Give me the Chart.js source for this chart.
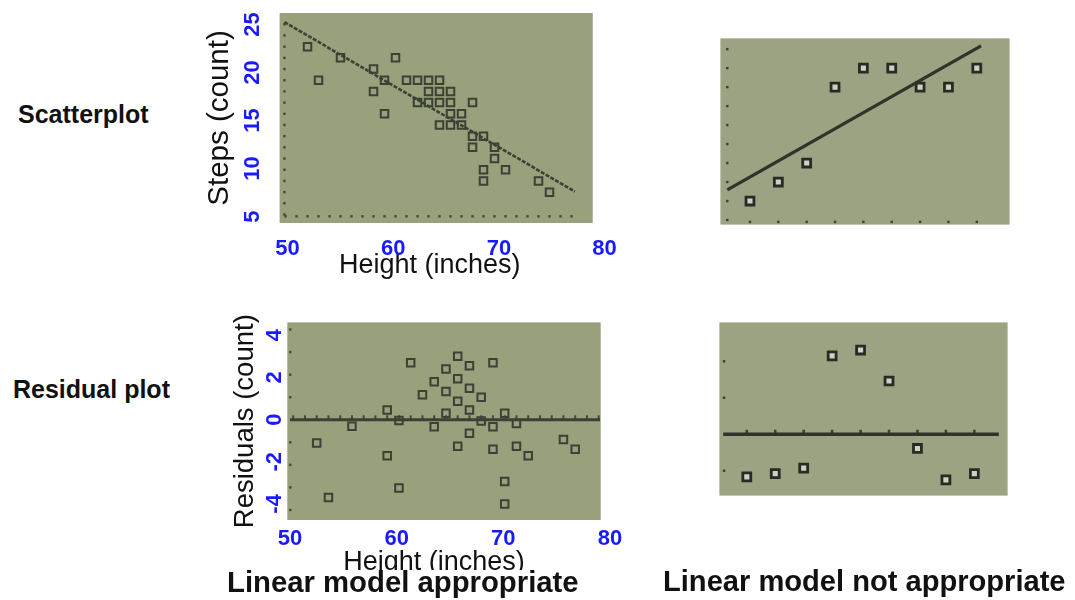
<!DOCTYPE html>
<html><head><meta charset="utf-8">
<script src="https://cdn.jsdelivr.net/npm/chart.js@4.4.0/dist/chart.umd.min.js"></script>
<style>
body{margin:0;background:#fff;}
#wrap{position:relative;width:1075px;height:600px;overflow:hidden;background:#fff;}
canvas{position:absolute;}
.lab{position:absolute;font-family:'Liberation Sans',Arial,sans-serif;font-weight:bold;color:#111;line-height:1;white-space:nowrap;}
</style></head><body>
<div id="wrap">
<canvas id="c1" width="440" height="285" style="left:190px;top:0px"></canvas>
<canvas id="c2" width="306" height="203" style="left:712px;top:30px"></canvas>
<canvas id="c3" width="440" height="300" style="left:190px;top:300px"></canvas>
<canvas id="c4" width="305" height="190" style="left:711px;top:314px"></canvas>
<div class="lab" style="left:18px;top:102px;font-size:25px">Scatterplot</div>
<div class="lab" style="left:13px;top:377px;font-size:25px">Residual plot</div>
<div class="lab" style="left:227px;top:567px;font-size:29.3px;background:linear-gradient(to bottom,rgba(255,255,255,0) 3px,#fff 3px);">Linear model appropriate</div>
<div class="lab" style="left:663px;top:567px;font-size:29.1px">Linear model not appropriate</div>
</div>
<script>
// ---------- data: linear relationship (left column) ----------
const heights   = [52,53,55,58,58,59,59,60,61,62,62,63,63,63,64,64,64,64,65,65,65,65,66,66,67,67,67,68,69,69,68,68,70,73,74];
const steps     = [22,19,21,20,18,19,16,21,19,19,17,19,18,17,19,18,17,15,18,17,16,15,16,15,17,14,13,14,13,12,11,10,11,10,9];
const residuals = [-1.03,-3.45,-0.29,0.43,-1.60,-0.03,-3.02,2.53,1.11,1.68,-0.31,2.25,1.25,0.29,2.82,1.82,0.82,-1.17,2.39,1.40,0.43,-0.60,1.00,-0.05,2.53,-0.31,-1.31,0.29,-0.17,-1.17,-2.74,-3.73,-1.60,-0.88,-1.31];
const fitHeights = [49.9, 76.3];
const fitSteps   = [24.2, 9.05];
const zeroHeights = [49.73, 76.11];
const zeroResid   = [0, 0];

// ---------- data: non-linear relationship (right column) ----------
const nlX         = [1,2,3,4,5,6,7,8,9];
const nlY         = [1,2,3,7,8,8,7,7,8];
const nlResiduals = [-1.17,-1.08,-0.93,2.15,2.31,1.46,-0.39,-1.25,-1.08];
const nlFitX = [0.2, 9.15];
const nlFitY = [1.59, 9.17];
const nlZeroX = [0.17, 9.86];
const nlZeroY = [0, 0];

// ---------- tick labels ----------
const heightTicks   = [50,60,70,80];
const stepsTicks    = [5,10,15,20,25];
const residualTicks = [-4,-2,0,2,4];

const FONT = "'Liberation Sans', Arial, sans-serif";
const BLUE = '#1a1aff';
const INK  = '#3a4135';
const INK2 = '#262b23';
const range = (a,b) => { const r=[]; for(let v=a; v<=b; v++) r.push(v); return r; };
const pts = (xs, ys) => xs.map((x,i)=>({x:x, y:ys[i]}));

const calcPlugin = {
  id: 'calc',
  beforeDraw(chart, args, o) {
    const {ctx, chartArea:a, scales} = chart;
    let x0 = a.left, x1 = a.right;
    if (o.fillX) { x0 = scales.x.getPixelForValue(o.fillX[0]); x1 = scales.x.getPixelForValue(o.fillX[1]); }
    ctx.save();
    ctx.fillStyle = o.bg;
    ctx.fillRect(x0, a.top, x1 - x0, a.bottom - a.top);
    ctx.restore();
  },
  beforeDatasetsDraw(chart, args, o) {
    const {ctx, scales} = chart;
    const xs = scales.x, ys = scales.y, s = o.dot || 2.4;
    ctx.save();
    ctx.fillStyle = o.dotColor;
    if (o.leftDots) o.leftDots.values.forEach(v => {
      const px = xs.getPixelForValue(o.leftDots.x), py = ys.getPixelForValue(v);
      ctx.fillRect(px - s/2, py - s/2, s, s);
    });
    if (o.bottomDots) o.bottomDots.values.forEach(v => {
      const px = xs.getPixelForValue(v), py = ys.getPixelForValue(o.bottomDots.y);
      ctx.fillRect(px - s/2, py - s/2, s, s);
    });
    if (o.zeroTicks) o.zeroTicks.values.forEach(v => {
      const px = xs.getPixelForValue(v), py = ys.getPixelForValue(0);
      ctx.fillRect(px - o.zeroTicks.w/2, py - o.zeroTicks.h, o.zeroTicks.w, o.zeroTicks.h);
    });
    ctx.restore();
  }
};

function xLabelAxis(min, max, ticksArr, pad, height, text, titlePad) {
  return { type:'linear', axis:'x', position:'bottom', min:min, max:max,
    afterBuildTicks: s => { s.ticks = ticksArr.map(v => ({value:v})); },
    afterFit: s => { s.height = height; },
    grid:{display:false, drawTicks:false}, border:{display:false},
    ticks:{autoSkip:false, minRotation:0, maxRotation:0, padding:pad, color:BLUE, font:{family:FONT, size:22, weight:'bold'}},
    title:{display:true, text:text, color:'#111', font:{family:FONT, size:27}, padding:{top:0, bottom:titlePad}}
  };
}
function yLabelAxis(min, max, ticksArr, pad, width, text, titleSize, titlePad) {
  return { type:'linear', axis:'y', position:'left', min:min, max:max,
    afterBuildTicks: s => { s.ticks = ticksArr.map(v => ({value:v})); },
    afterFit: s => { s.width = width; },
    grid:{display:false, drawTicks:false}, border:{display:false},
    ticks:{autoSkip:false, mirror:true, minRotation:90, maxRotation:90, crossAlign:'center', padding:pad, color:BLUE, font:{family:FONT, size:22, weight:'bold'}},
    title:{display:true, text:text, color:'#111', font:{family:FONT, size:titleSize}, padding:{top:titlePad, bottom:0}}
  };
}
const hidden = (min, max) => ({type:'linear', display:false, min:min, max:max});

function base(scales, calc, padding) {
  return { responsive:false, animation:false, events:[], layout:{padding:padding},
    scales:scales,
    plugins:{legend:{display:false}, tooltip:{enabled:false}, calc:calc} };
}
const sq = (data, r, bw, color, fill) => ({ type:'scatter', data:data, pointStyle:'rect', pointRadius:r, pointBorderWidth:bw,
  borderColor:color, backgroundColor:fill, pointBackgroundColor:fill, pointBorderColor:color, showLine:false, clip:false });
const ln = (data, w, color, dash) => ({ type:'scatter', data:data, showLine:true, pointRadius:0, borderWidth:w,
  borderColor:color, borderDash:dash || [], fill:false, clip:false });

// ---- Panel 1: scatterplot, linear ----
new Chart(document.getElementById('c1'), {
  type:'scatter',
  data:{datasets:[
    ln(pts(fitHeights, fitSteps), 2.6, INK, [4,1.5]),
    sq(pts(heights, steps), 5.3, 2, INK, 'rgba(0,0,0,0)')
  ]},
  options: base({
      x: hidden(47.225, 79.006),
      y: hidden(6.241, 25.009),
      xl: xLabelAxis(46.925, 80, heightTicks, 13.2, 62, 'Height (inches)', 3.3),
      yl: yLabelAxis(4.333, 26.208, stepsTicks, -14.7, 65, 'Steps (count)', 29.5, 12.3)
    },
    {bg:'#98a07c', fillX:[49.463, 77.93], dotColor:'#434a3d',
     leftDots:{x:49.9, values:range(7,24)}, bottomDots:{y:6.84, values:range(50,76)}},
    {left:0, top:13, right:20, bottom:0}),
  plugins:[calcPlugin]
});

// ---- Panel 2: scatterplot, non-linear ----
new Chart(document.getElementById('c2'), {
  type:'scatter',
  data:{datasets:[
    ln(pts(nlFitX, nlFitY), 3.2, '#2e3429'),
    sq(pts(nlX, nlY), 5.6, 2.8, INK2, '#cfd2c2')
  ]},
  options: base({ x: hidden(-0.0433, 10.157), y: hidden(-0.2415, 9.565) },
    {bg:'#9ba382', dotColor:'#3a4035',
     leftDots:{x:0.2, values:range(0,9)}, bottomDots:{y:-0.1, values:range(1,9)}},
    0),
  plugins:[calcPlugin]
});

// ---- Panel 3: residual plot, linear ----
new Chart(document.getElementById('c3'), {
  type:'scatter',
  data:{datasets:[
    ln(pts(zeroHeights, zeroResid), 3, INK),
    sq(pts(heights, residuals), 5.3, 2, INK, 'rgba(0,0,0,0)')
  ]},
  options: base({
      x: hidden(46.834, 77.132),
      y: hidden(-4.444, 4.316),
      xl: xLabelAxis(46.8125, 80.1875, heightTicks, 5.3, 80, 'Height (inches)', 21.1),
      yl: yLabelAxis(-4.763, 4.608, residualTicks, 9.2, 66, 'Residuals (count)', 27.5, 38.5)
    },
    {bg:'#98a07c', fillX:[49.498, 76.17], dotColor:'#434a3d',
     leftDots:{x:49.75, values:[-4,-3,-2,-1,1,2,3,4]}, zeroTicks:{values:range(50,76), w:2, h:4.5}},
    {left:0, top:15, right:18, bottom:0}),
  plugins:[calcPlugin]
});

// ---- Panel 4: residual plot, non-linear ----
new Chart(document.getElementById('c4'), {
  type:'scatter',
  data:{datasets:[
    ln(pts(nlZeroX, nlZeroY), 3.5, '#2e3429'),
    sq(pts(nlX, nlResiduals), 5.6, 2.8, INK2, '#cfd2c2')
  ]},
  options: base({ x: hidden(0.0365, 10.169), y: hidden(-1.6825, 3.0675) },
    {bg:'#9ba382', dotColor:'#3a4035',
     leftDots:{x:0.2, values:[-1,1,2]}, zeroTicks:{values:range(1,9), w:2.5, h:4.5}},
    0),
  plugins:[calcPlugin]
});
</script>
</body></html>
